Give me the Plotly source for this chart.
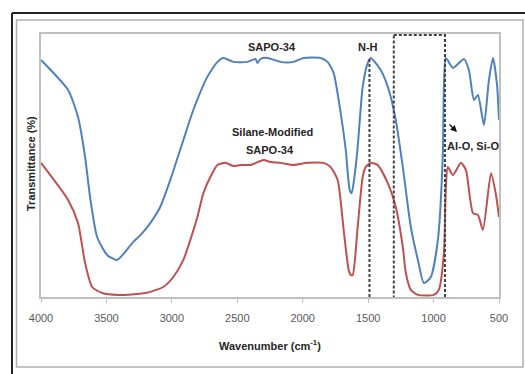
import plotly.graph_objects as go

# Wavenumber (cm^-1) and transmittance (arbitrary %)
sapo_wn = [4000, 3793, 3717, 3663, 3625, 3571, 3495, 3418, 3303, 3226, 3165, 3089, 3012, 2912,
           2836, 2729, 2652, 2606, 2530, 2422, 2361, 2346, 2323, 2269, 2170, 2070, 1993, 1863,
           1810, 1764, 1710, 1671, 1641, 1626, 1603, 1580, 1542, 1503, 1480, 1404, 1342, 1289,
           1235, 1174, 1120, 1074, 1021, 967, 929, 921, 906, 852, 768, 730, 691, 661, 615, 577,
           546, 515, 500]
sapo_t = [90.1, 78.7, 68.4, 53.2, 38.0, 22.8, 16.0, 14.1, 20.5, 24.3, 28.1, 34.2, 44.5, 59.7,
          71.1, 83.7, 89.4, 90.9, 89.4, 89.4, 90.5, 89.0, 90.5, 90.9, 89.4, 89.4, 90.9, 90.9,
          89.4, 85.2, 70.0, 55.9, 40.7, 39.5, 46.4, 57.0, 79.8, 89.0, 90.9, 86.3, 78.7, 67.3,
          49.4, 26.6, 14.1, 5.3, 7.6, 21.7, 54.8, 79.8, 90.9, 87.1, 90.5, 86.3, 74.9, 76.8, 65.4, 82.5,
          90.9, 80.6, 67.3]

mod_wn = [4000, 3793, 3717, 3663, 3609, 3533, 3410, 3203, 3066, 2989, 2912, 2859, 2805, 2759,
          2706, 2652, 2591, 2530, 2476, 2399, 2300, 2246, 2170, 2070, 1963, 1840, 1787, 1733,
          1687, 1649, 1633, 1618, 1580, 1542, 1519, 1480, 1427, 1350, 1289, 1235, 1212, 1174,
          1120, 998, 960, 921, 906, 891, 852, 791, 753, 699, 661, 623, 561, 523, 500]
mod_t = [51.0, 36.9, 28.1, 12.9, 3.8, 1.5, 0.8, 1.5, 3.8, 7.6, 14.1, 21.7, 30.4, 39.5,
         45.6, 50.2, 51.0, 49.8, 50.2, 50.2, 52.1, 51.3, 51.0, 50.2, 51.0, 51.0, 49.4, 44.5,
         25.5, 10.3, 8.4, 8.4, 26.6, 45.6, 49.4, 51.0, 50.2, 43.3, 34.2, 19.0, 9.1, 2.7,
         0.8, 0.8, 2.7, 16.7, 41.8, 49.4, 46.4, 51.0, 48.3, 31.9, 31.2, 25.5, 47.1, 38.8, 30.4]

x_ticks = [4000, 3500, 3000, 2500, 2000, 1500, 1000, 500]
nh_line = 1490
box_range = [1304, 913]

W, H = 525, 374
L, R, T, B = 41, 26, 34, 77
pw, ph = W - L - R, H - T - B

def px(x):
    return (x - L) / pw

def py(y):
    return (H - B - y) / ph

fig = go.Figure()
fig.add_trace(go.Scatter(x=sapo_wn, y=sapo_t, mode="lines", line=dict(color="#4F81BD", width=2, shape="spline", smoothing=0.6), showlegend=False))
fig.add_trace(go.Scatter(x=mod_wn, y=mod_t, mode="lines", line=dict(color="#C0504D", width=2, shape="spline", smoothing=0.6), showlegend=False))

dash = dict(color="#404040", width=2, dash="3px,2px")
shapes = [
    dict(type="line", xref="x", yref="y", x0=nh_line, x1=nh_line, y0=90.5, y1=-1.2, line=dash),
    dict(type="rect", xref="x", yref="y", x0=box_range[0], x1=box_range[1], y0=99.6, y1=-0.4, line=dash),
    # outer frames
    dict(type="line", xref="paper", yref="paper", x0=px(12), x1=px(12), y0=py(13), y1=py(374), line=dict(color="#222222", width=2)),
    dict(type="line", xref="paper", yref="paper", x0=px(12), x1=px(525), y0=py(13), y1=py(13), line=dict(color="#222222", width=2)),
    dict(type="rect", xref="paper", yref="paper", x0=px(16.5), x1=px(523), y0=py(20), y1=py(367), line=dict(color="#b0b0b0", width=1.5)),
]

font_txt = dict(family="Liberation Sans Narrow, Arial", size=11, color="#262626")
ann = [
    dict(text="<b>SAPO-34</b>", x=px(272), y=py(47)),
    dict(text="<b>N-H</b>", x=px(368), y=py(47)),
    dict(text="<b>Silane-Modified</b>", x=px(272), y=py(132)),
    dict(text="<b>SAPO-34</b>", x=px(270), y=py(150)),
    dict(text="<b>Al-O, Si-O</b>", x=px(473), y=py(146)),
    dict(text="<b>Wavenumber (cm<sup>-1</sup>)</b>", x=px(270), y=py(345)),
    dict(text="<b>Transmittance (%)</b>", x=px(31), y=py(164), textangle=-90),
]
annotations = []
for a in ann:
    d = dict(xref="paper", yref="paper", showarrow=False, font=font_txt, xanchor="center", yanchor="middle")
    d.update(a)
    annotations.append(d)
annotations.append(dict(xref="paper", yref="paper", axref="pixel", ayref="pixel",
                        x=px(457), y=py(132), ax=-9, ay=-9, showarrow=True, arrowhead=2,
                        arrowsize=1, arrowwidth=1.3, arrowcolor="#111111", text=""))

fig.update_layout(
    width=W, height=H,
    margin=dict(l=L, r=R, t=T, b=B),
    paper_bgcolor="white", plot_bgcolor="white",
    shapes=shapes, annotations=annotations,
    xaxis=dict(range=[4000, 500], tickvals=x_ticks, ticktext=[str(v) for v in x_ticks],
               showgrid=False, zeroline=False, showline=True, mirror=True, linecolor="#bfbfbf",
               linewidth=1.5, ticks="outside", ticklen=4, tickcolor="#bfbfbf",
               ticklabelstandoff=6,
               tickfont=dict(family="Liberation Sans Narrow, Arial", size=11, color="#595959")),
    yaxis=dict(range=[0, 100], showticklabels=False, showgrid=False, zeroline=False,
               showline=True, mirror=True, linecolor="#bfbfbf", linewidth=1.5, ticks=""),
)
fig.write_html("out.html", config={"displayModeBar": False},
               post_script="document.body.style.margin='0';document.body.style.overflow='hidden';")
